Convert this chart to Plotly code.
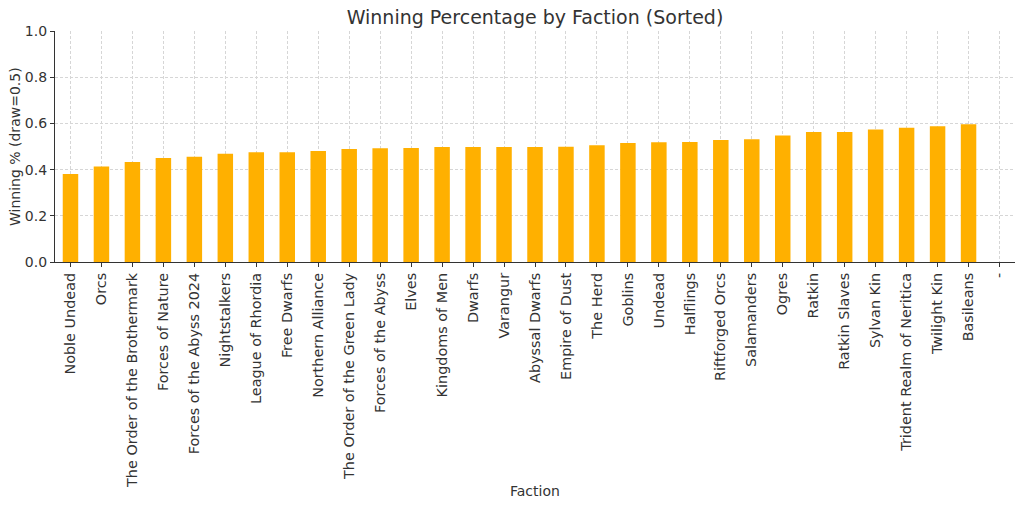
import plotly.graph_objects as go

factions = ["Noble Undead", "Orcs", "The Order of the Brothermark", "Forces of Nature",
            "Forces of the Abyss 2024", "Nightstalkers", "League of Rhordia", "Free Dwarfs",
            "Northern Alliance", "The Order of the Green Lady", "Forces of the Abyss", "Elves",
            "Kingdoms of Men", "Dwarfs", "Varangur", "Abyssal Dwarfs", "Empire of Dust",
            "The Herd", "Goblins", "Undead", "Halflings", "Riftforged Orcs", "Salamanders",
            "Ogres", "Ratkin", "Ratkin Slaves", "Sylvan Kin", "Trident Realm of Neritica",
            "Twilight Kin", "Basileans", "-"]
win_pct = [0.381, 0.413, 0.433, 0.450, 0.456, 0.469, 0.475, 0.475, 0.481, 0.489, 0.492, 0.494,
           0.498, 0.498, 0.498, 0.498, 0.499, 0.505, 0.515, 0.518, 0.519, 0.528, 0.531,
           0.548, 0.563, 0.563, 0.574, 0.581, 0.588, 0.596, None]
y_ticks = [0.0, 0.2, 0.4, 0.6, 0.8, 1.0]

font_family = "DejaVu Sans"
text_color = "#333333"

W, H = 1024, 508
L, R, T, B = 55, 9, 31, 246
plot_w = W - L - R
plot_h = H - T - B

fig = go.Figure(go.Bar(
    x=factions, y=win_pct, marker=dict(color="#FFB000", line=dict(width=0)), width=0.5,
))

fig.update_layout(
    width=W, height=H,
    margin=dict(l=L, r=R, t=T, b=B, autoexpand=False),
    paper_bgcolor="white", plot_bgcolor="white",
    font=dict(family=font_family, size=14, color=text_color),
    title=dict(text="Winning Percentage by Faction (Sorted)", x=535 / W, xanchor="center",
               xref="container", yref="container",
               y=1 - 17 / H, yanchor="middle", font=dict(size=19, color=text_color)),
    showlegend=False,
    annotations=[
        dict(text="Faction", xref="paper", yref="paper", x=(535 - L) / plot_w,
             y=(T + plot_h - 491) / plot_h, xanchor="center", yanchor="middle",
             showarrow=False, font=dict(size=14, color=text_color)),
        dict(text="Winning % (draw=0.5)", xref="paper", yref="paper", x=(15 - L) / plot_w,
             y=(T + plot_h - 147) / plot_h, xanchor="center", yanchor="middle", textangle=-90,
             showarrow=False, font=dict(size=14, color=text_color)),
    ],
)
grid = dict(showgrid=True, gridcolor="#d6d6d6", griddash="3px,2px", gridwidth=0.8)
fig.update_xaxes(
    automargin=False,
    tickangle=-90, ticks="outside", ticklen=4, tickcolor="#333333",
    showline=True, linecolor="#333333", linewidth=1.2,
    range=[-0.5, len(factions) - 0.5], tickfont=dict(size=14.4), **grid,
)
fig.update_yaxes(
    automargin=False,
    range=[0, 1.0], tickvals=y_ticks, ticktext=[f"{v:.1f}" for v in y_ticks],
    ticks="outside", ticklen=4, tickcolor="#333333",
    showline=True, linecolor="#333333", linewidth=1.2,
    zeroline=False, tickfont=dict(size=14), **grid,
)

fig.write_html("out.html", post_script="document.body.style.margin='0';",
               config={"displayModeBar": False})
